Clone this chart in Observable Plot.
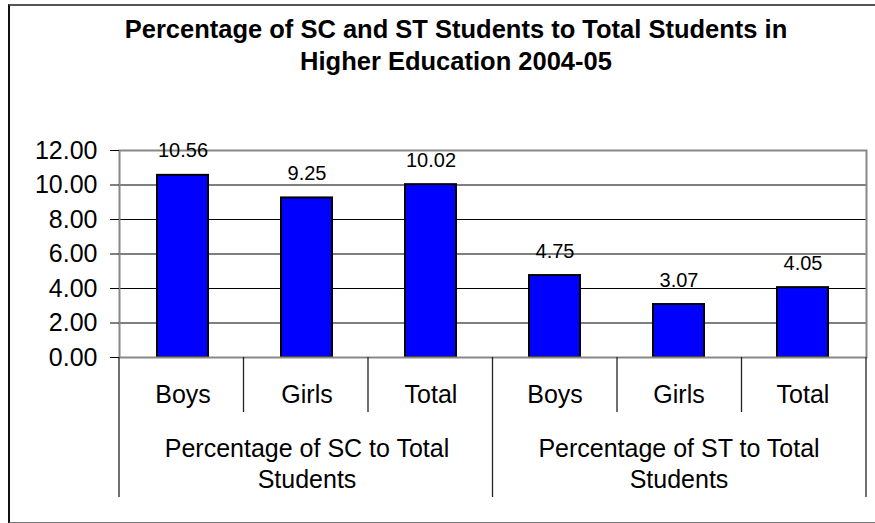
<!DOCTYPE html>
<html>
<head>
<meta charset="utf-8">
<script src="https://cdn.jsdelivr.net/npm/d3@7"></script>
<script src="https://cdn.jsdelivr.net/npm/@observablehq/plot@0.6"></script>
<style>
  html, body { margin: 0; padding: 0; background: #fff; overflow: hidden; }
  #wrap { position: relative; width: 875px; height: 523px; font-family: Arial, "Liberation Sans", sans-serif; }
  #outer { position: absolute; left: 8px; top: 4px; width: 900px; height: 516px; border-left: 2px solid #111; border-top: 2px solid #555; border-bottom: 2px solid #777; }
  #title { position: absolute; left: 0; width: 912px; top: 13px; text-align: center; font-weight: bold; font-size: 25.5px; line-height: 32px; color: #000; }
  #chart { position: absolute; left: 0; top: 0; }
</style>
</head>
<body>
<div id="wrap">
  <div id="outer"></div>
  <div id="chart"></div>
  <div id="title">Percentage of SC and ST Students to Total Students in<br>Higher Education 2004-05</div>
</div>
<script>
const groups = ["Percentage of SC to Total\nStudents", "Percentage of ST to Total\nStudents"];
const groupKeys = ["SC", "ST"];
const categories = ["Boys", "Girls", "Total"];
const scValues = [10.56, 9.25, 10.02];
const stValues = [4.75, 3.07, 4.05];
const yTicks = [0, 2, 4, 6, 8, 10, 12];

const rows = [];
[scValues, stValues].forEach((vals, g) => {
  vals.forEach((v, i) => rows.push({key: groupKeys[g] + "|" + categories[i], group: g, cat: categories[i], value: v}));
});
const keys = rows.map(d => d.key);
const groupCenters = groupKeys.map((g, gi) => ({key: g + "|" + categories[1], label: groups[gi]}));

function separators(index, scales, values, dims) {
  const g = d3.create("svg:g");
  const n = keys.length;
  const x0 = dims.marginLeft, x1 = dims.width - dims.marginRight;
  const step = (x1 - x0) / n;
  const yb = scales.y(0);
  for (let i = 0; i <= n; i++) {
    const x = x0 + i * step;
    const major = i % categories.length === 0;
    g.append("line")
      .attr("x1", x).attr("x2", x)
      .attr("y1", yb).attr("y2", major ? yb + 140 : yb + 55)
      .attr("stroke", "#222").attr("stroke-width", 1.3);
  }
  return g.node();
}

const chart = Plot.plot({
  width: 875,
  height: 523,
  marginLeft: 119,
  marginRight: 9,
  marginTop: 150,
  marginBottom: 166,
  style: {fontFamily: "Arial, 'Liberation Sans', sans-serif", background: "transparent", color: "#000"},
  x: {domain: keys, paddingInner: 0.59, paddingOuter: 0.295, align: 0.5, label: null},
  y: {domain: [0, 12], label: null},
  marks: [
    Plot.ruleY(yTicks, {stroke: "#000", strokeWidth: 1.2}),
    Plot.barY(rows, {x: "key", y: "value", fill: "#0000FF", stroke: "#000", strokeWidth: 2}),
    Plot.frame({stroke: "#888", strokeWidth: 2}),
    Plot.axisY({ticks: yTicks, tickFormat: d3.format(".2f"), fontSize: 25, tickSize: 9, tickPadding: 13, stroke: "#000", strokeOpacity: 1, label: null}),
    Plot.axisX({tickSize: 0, tickPadding: 28, fontSize: 25, tickFormat: k => k.split("|")[1], label: null}),
    Plot.text(rows, {x: "key", y: "value", text: d => d3.format(".2f")(d.value), fontSize: 20, lineAnchor: "bottom", dy: -18, fill: "#000"}),
    Plot.text(groupCenters, {x: "key", frameAnchor: "bottom", text: "label", lineAnchor: "top", dy: 77, fontSize: 25, lineHeight: 1.24, fill: "#000"}),
    separators
  ]
});
document.getElementById("chart").appendChild(chart);
</script>
</body>
</html>
